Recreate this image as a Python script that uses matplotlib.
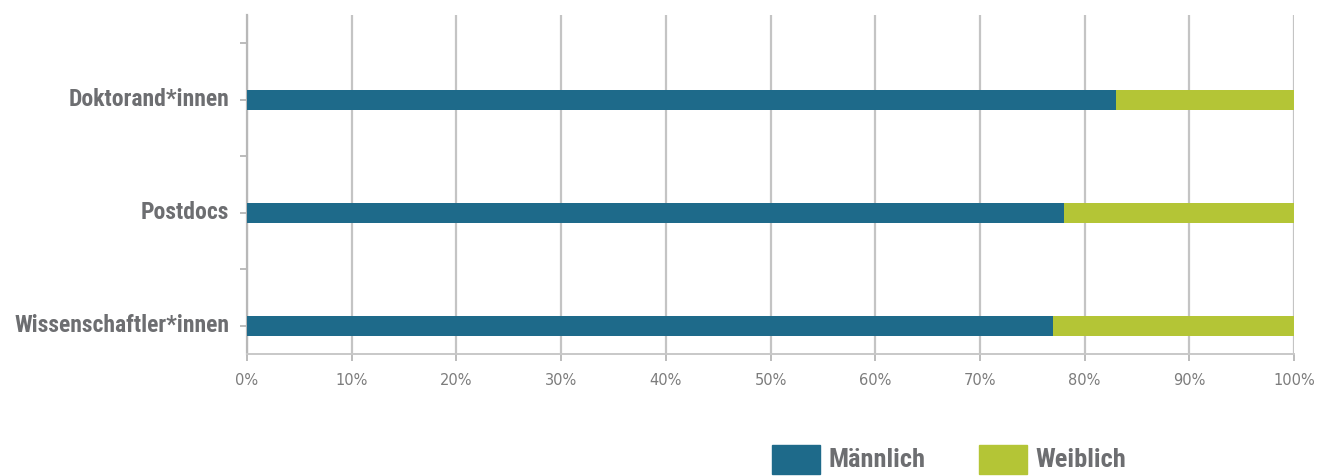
import matplotlib
matplotlib.use("Agg")
import matplotlib.pyplot as plt
from matplotlib.patches import Rectangle
from matplotlib.ticker import MultipleLocator, FuncFormatter

# Data: share (%) by gender per group, bottom to top
categories = ["Wissenschaftler*innen", "Postdocs", "Doktorand*innen"]
maennlich = [77, 78, 83]
weiblich = [23, 22, 17]
series_names = ["Männlich", "Weiblich"]
xtick_values = [0, 10, 20, 30, 40, 50, 60, 70, 80, 90, 100]

blue = "#1e6a8a"
green = "#b4c536"
label_gray = "#6d6e71"
grid_gray = "#c4c4c4"
label_font = ["Roboto Condensed", "Roboto", "DejaVu Sans"]

W, H = 1319, 476
fig = plt.figure(figsize=(W / 100, H / 100), dpi=100)
ax = fig.add_axes([247 / W, 1 - 354 / H, (1294 - 247) / W, (354 - 15) / H])

ypos = list(range(len(categories)))
bar_h = 0.18
ax.barh(ypos, maennlich, height=bar_h, color=blue, zorder=3)
ax.barh(ypos, weiblich, left=maennlich, height=bar_h, color=green, zorder=3)

ax.set_xlim(0, 100)
ax.set_ylim(-0.25, 2.75)

# vertical grid
ax.set_xticks(xtick_values)
ax.xaxis.set_major_formatter(FuncFormatter(lambda v, p: f"{int(v)}%"))
ax.grid(axis="x", color=grid_gray, linewidth=1.6, zorder=0)
ax.tick_params(axis="x", length=5, width=1.2, color="#b0b0b0", pad=9,
               labelsize=10.5, labelcolor="#7c7c7c")
for lab in ax.get_xticklabels():
    lab.set_family("DejaVu Sans")

# y ticks at band edges, labels at bars
ax.yaxis.set_major_locator(MultipleLocator(0.5))
ax.yaxis.set_major_formatter(FuncFormatter(lambda v, p: ""))
ax.tick_params(axis="y", length=5, width=1.2, color="#b0b0b0")
for y, name in zip(ypos, categories):
    ax.text(-0.017, y, name, transform=ax.get_yaxis_transform(),
            ha="right", va="center", fontsize=17, fontweight="bold",
            family=label_font, color=label_gray)

for side in ["top", "right"]:
    ax.spines[side].set_visible(False)
ax.spines["left"].set_color("#b8b8b8")
ax.spines["left"].set_linewidth(1.6)
ax.spines["bottom"].set_color("#c8c8c8")
ax.spines["bottom"].set_linewidth(1.4)

# legend drawn in figure pixels
legend_items = [(772, blue, series_names[0]), (979, green, series_names[1])]
for x0, col, name in legend_items:
    fig.patches.append(Rectangle((x0 / W, 1 - 474 / H), 48 / W, 29 / H,
                                 transform=fig.transFigure, color=col))
    fig.text((x0 + 56) / W, 1 - 460 / H, name, ha="left", va="center",
             fontsize=19, fontweight="bold", family=label_font,
             color=label_gray)

fig.savefig("out.png", dpi=100)
